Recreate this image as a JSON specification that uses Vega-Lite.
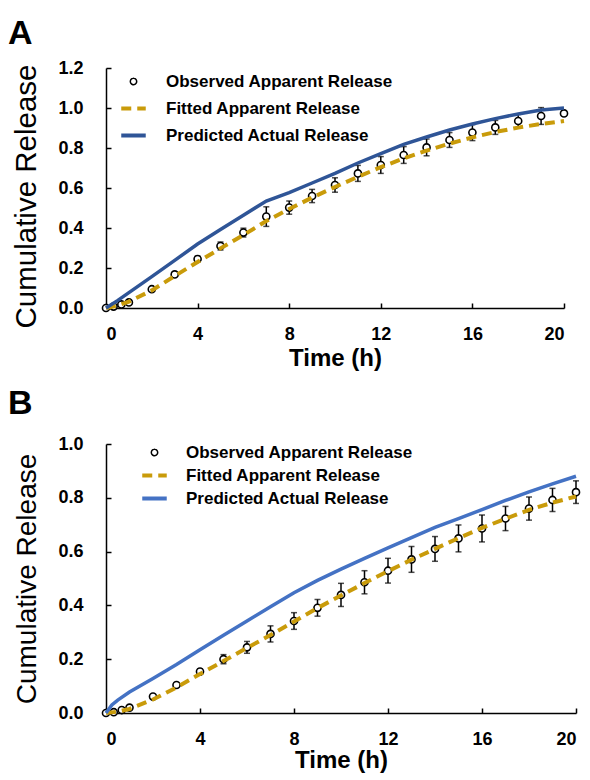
{
  "$schema": "https://vega.github.io/schema/vega-lite/v6.json",
  "padding": {"left": 8, "top": 17, "right": 5, "bottom": 5},
  "spacing": 17,
  "background": "white",
  "config": {
    "view": {"stroke": null},
    "font": "Liberation Sans",
    "axis": {
      "grid": false,
      "domainColor": "black",
      "domainWidth": 1.5,
      "tickColor": "black",
      "tickWidth": 1.5,
      "tickSize": -5,
      "labelFont": "Liberation Sans",
      "labelFontSize": 18,
      "labelFontWeight": "bold",
      "labelColor": "black",
      "titleFont": "Liberation Sans",
      "titleColor": "black"
    },
    "axisX": {"labelPadding": 22, "titleFontSize": 24, "titleFontWeight": "bold", "titlePadding": 3},
    "axisY": {"labelPadding": 28, "titleFontSize": 28, "titleFontWeight": "normal", "titlePadding": 16},
    "legend": {
      "labelFont": "Liberation Sans",
      "labelFontSize": 17,
      "labelFontWeight": "bold",
      "labelColor": "black",
      "labelLimit": 400,
      "padding": 0,
      "symbolSize": 784,
      "symbolType": "stroke"
    },
    "title": {"font": "Liberation Sans", "fontSize": 34, "fontWeight": "bold", "color": "black", "anchor": "start", "frame": "group"}
  },
  "datasets": {
    "obsA": [
      {"t": 0, "v": 0.000, "lo": 0.000, "hi": 0.003},
      {"t": 0.33, "v": 0.007, "lo": 0.003, "hi": 0.011},
      {"t": 0.67, "v": 0.018, "lo": 0.013, "hi": 0.023},
      {"t": 1, "v": 0.028, "lo": 0.022, "hi": 0.034},
      {"t": 2, "v": 0.094, "lo": 0.086, "hi": 0.102},
      {"t": 3, "v": 0.168, "lo": 0.158, "hi": 0.178},
      {"t": 4, "v": 0.245, "lo": 0.231, "hi": 0.259},
      {"t": 5, "v": 0.310, "lo": 0.290, "hi": 0.330},
      {"t": 6, "v": 0.377, "lo": 0.355, "hi": 0.399},
      {"t": 7, "v": 0.457, "lo": 0.408, "hi": 0.506},
      {"t": 8, "v": 0.502, "lo": 0.469, "hi": 0.535},
      {"t": 9, "v": 0.560, "lo": 0.527, "hi": 0.593},
      {"t": 10, "v": 0.615, "lo": 0.579, "hi": 0.651},
      {"t": 11, "v": 0.673, "lo": 0.633, "hi": 0.713},
      {"t": 12, "v": 0.715, "lo": 0.673, "hi": 0.757},
      {"t": 13, "v": 0.765, "lo": 0.723, "hi": 0.807},
      {"t": 14, "v": 0.803, "lo": 0.761, "hi": 0.845},
      {"t": 15, "v": 0.840, "lo": 0.803, "hi": 0.877},
      {"t": 16, "v": 0.877, "lo": 0.837, "hi": 0.917},
      {"t": 17, "v": 0.903, "lo": 0.868, "hi": 0.938},
      {"t": 18, "v": 0.935, "lo": 0.902, "hi": 0.968},
      {"t": 19, "v": 0.960, "lo": 0.918, "hi": 1.002},
      {"t": 20, "v": 0.973, "lo": 0.961, "hi": 0.985}
    ],
    "linesA": [
      {"t": 0, "v": 0.000, "series": "Fitted Apparent Release"},
      {"t": 0.5, "v": 0.012, "series": "Fitted Apparent Release"},
      {"t": 1, "v": 0.032, "series": "Fitted Apparent Release"},
      {"t": 2, "v": 0.088, "series": "Fitted Apparent Release"},
      {"t": 3, "v": 0.160, "series": "Fitted Apparent Release"},
      {"t": 4, "v": 0.230, "series": "Fitted Apparent Release"},
      {"t": 5, "v": 0.298, "series": "Fitted Apparent Release"},
      {"t": 6, "v": 0.365, "series": "Fitted Apparent Release"},
      {"t": 7, "v": 0.435, "series": "Fitted Apparent Release"},
      {"t": 8, "v": 0.495, "series": "Fitted Apparent Release"},
      {"t": 9, "v": 0.552, "series": "Fitted Apparent Release"},
      {"t": 10, "v": 0.605, "series": "Fitted Apparent Release"},
      {"t": 11, "v": 0.656, "series": "Fitted Apparent Release"},
      {"t": 12, "v": 0.704, "series": "Fitted Apparent Release"},
      {"t": 13, "v": 0.748, "series": "Fitted Apparent Release"},
      {"t": 14, "v": 0.787, "series": "Fitted Apparent Release"},
      {"t": 15, "v": 0.822, "series": "Fitted Apparent Release"},
      {"t": 16, "v": 0.853, "series": "Fitted Apparent Release"},
      {"t": 17, "v": 0.880, "series": "Fitted Apparent Release"},
      {"t": 18, "v": 0.902, "series": "Fitted Apparent Release"},
      {"t": 19, "v": 0.920, "series": "Fitted Apparent Release"},
      {"t": 20, "v": 0.935, "series": "Fitted Apparent Release"},
      {"t": 0, "v": 0.000, "series": "Predicted Actual Release"},
      {"t": 0.5, "v": 0.037, "series": "Predicted Actual Release"},
      {"t": 1, "v": 0.077, "series": "Predicted Actual Release"},
      {"t": 2, "v": 0.157, "series": "Predicted Actual Release"},
      {"t": 3, "v": 0.238, "series": "Predicted Actual Release"},
      {"t": 4, "v": 0.320, "series": "Predicted Actual Release"},
      {"t": 5, "v": 0.392, "series": "Predicted Actual Release"},
      {"t": 6, "v": 0.464, "series": "Predicted Actual Release"},
      {"t": 7, "v": 0.535, "series": "Predicted Actual Release"},
      {"t": 8, "v": 0.577, "series": "Predicted Actual Release"},
      {"t": 9, "v": 0.625, "series": "Predicted Actual Release"},
      {"t": 10, "v": 0.673, "series": "Predicted Actual Release"},
      {"t": 11, "v": 0.725, "series": "Predicted Actual Release"},
      {"t": 12, "v": 0.772, "series": "Predicted Actual Release"},
      {"t": 13, "v": 0.818, "series": "Predicted Actual Release"},
      {"t": 14, "v": 0.855, "series": "Predicted Actual Release"},
      {"t": 15, "v": 0.890, "series": "Predicted Actual Release"},
      {"t": 16, "v": 0.920, "series": "Predicted Actual Release"},
      {"t": 17, "v": 0.947, "series": "Predicted Actual Release"},
      {"t": 18, "v": 0.970, "series": "Predicted Actual Release"},
      {"t": 19, "v": 0.990, "series": "Predicted Actual Release"},
      {"t": 20, "v": 1.000, "series": "Predicted Actual Release"}
    ],
    "obsB": [
      {"t": 0, "v": 0.000, "lo": 0.000, "hi": 0.002},
      {"t": 0.33, "v": 0.003, "lo": 0.001, "hi": 0.005},
      {"t": 0.67, "v": 0.011, "lo": 0.008, "hi": 0.014},
      {"t": 1, "v": 0.020, "lo": 0.016, "hi": 0.024},
      {"t": 2, "v": 0.061, "lo": 0.056, "hi": 0.066},
      {"t": 3, "v": 0.104, "lo": 0.097, "hi": 0.111},
      {"t": 4, "v": 0.154, "lo": 0.144, "hi": 0.164},
      {"t": 5, "v": 0.200, "lo": 0.183, "hi": 0.217},
      {"t": 6, "v": 0.244, "lo": 0.222, "hi": 0.266},
      {"t": 7, "v": 0.294, "lo": 0.264, "hi": 0.324},
      {"t": 8, "v": 0.342, "lo": 0.311, "hi": 0.373},
      {"t": 9, "v": 0.391, "lo": 0.360, "hi": 0.422},
      {"t": 10, "v": 0.439, "lo": 0.396, "hi": 0.482},
      {"t": 11, "v": 0.486, "lo": 0.443, "hi": 0.529},
      {"t": 12, "v": 0.529, "lo": 0.483, "hi": 0.575},
      {"t": 13, "v": 0.571, "lo": 0.523, "hi": 0.619},
      {"t": 14, "v": 0.610, "lo": 0.564, "hi": 0.656},
      {"t": 15, "v": 0.649, "lo": 0.599, "hi": 0.699},
      {"t": 16, "v": 0.686, "lo": 0.636, "hi": 0.736},
      {"t": 17, "v": 0.723, "lo": 0.678, "hi": 0.768},
      {"t": 18, "v": 0.760, "lo": 0.717, "hi": 0.803},
      {"t": 19, "v": 0.792, "lo": 0.749, "hi": 0.835},
      {"t": 20, "v": 0.821, "lo": 0.779, "hi": 0.863}
    ],
    "linesB": [
      {"t": 0, "v": 0.000, "series": "Fitted Apparent Release"},
      {"t": 0.5, "v": 0.005, "series": "Fitted Apparent Release"},
      {"t": 1, "v": 0.015, "series": "Fitted Apparent Release"},
      {"t": 2, "v": 0.050, "series": "Fitted Apparent Release"},
      {"t": 3, "v": 0.095, "series": "Fitted Apparent Release"},
      {"t": 4, "v": 0.145, "series": "Fitted Apparent Release"},
      {"t": 5, "v": 0.193, "series": "Fitted Apparent Release"},
      {"t": 6, "v": 0.242, "series": "Fitted Apparent Release"},
      {"t": 7, "v": 0.290, "series": "Fitted Apparent Release"},
      {"t": 8, "v": 0.340, "series": "Fitted Apparent Release"},
      {"t": 9, "v": 0.390, "series": "Fitted Apparent Release"},
      {"t": 10, "v": 0.437, "series": "Fitted Apparent Release"},
      {"t": 11, "v": 0.483, "series": "Fitted Apparent Release"},
      {"t": 12, "v": 0.527, "series": "Fitted Apparent Release"},
      {"t": 13, "v": 0.570, "series": "Fitted Apparent Release"},
      {"t": 14, "v": 0.610, "series": "Fitted Apparent Release"},
      {"t": 15, "v": 0.650, "series": "Fitted Apparent Release"},
      {"t": 16, "v": 0.688, "series": "Fitted Apparent Release"},
      {"t": 17, "v": 0.722, "series": "Fitted Apparent Release"},
      {"t": 18, "v": 0.755, "series": "Fitted Apparent Release"},
      {"t": 19, "v": 0.782, "series": "Fitted Apparent Release"},
      {"t": 20, "v": 0.805, "series": "Fitted Apparent Release"},
      {"t": 0, "v": 0.000, "series": "Predicted Actual Release"},
      {"t": 0.25, "v": 0.030, "series": "Predicted Actual Release"},
      {"t": 0.5, "v": 0.048, "series": "Predicted Actual Release"},
      {"t": 1, "v": 0.078, "series": "Predicted Actual Release"},
      {"t": 2, "v": 0.128, "series": "Predicted Actual Release"},
      {"t": 3, "v": 0.180, "series": "Predicted Actual Release"},
      {"t": 4, "v": 0.235, "series": "Predicted Actual Release"},
      {"t": 5, "v": 0.289, "series": "Predicted Actual Release"},
      {"t": 6, "v": 0.342, "series": "Predicted Actual Release"},
      {"t": 7, "v": 0.395, "series": "Predicted Actual Release"},
      {"t": 8, "v": 0.447, "series": "Predicted Actual Release"},
      {"t": 9, "v": 0.493, "series": "Predicted Actual Release"},
      {"t": 10, "v": 0.535, "series": "Predicted Actual Release"},
      {"t": 11, "v": 0.575, "series": "Predicted Actual Release"},
      {"t": 12, "v": 0.614, "series": "Predicted Actual Release"},
      {"t": 13, "v": 0.652, "series": "Predicted Actual Release"},
      {"t": 14, "v": 0.690, "series": "Predicted Actual Release"},
      {"t": 15, "v": 0.723, "series": "Predicted Actual Release"},
      {"t": 16, "v": 0.756, "series": "Predicted Actual Release"},
      {"t": 17, "v": 0.790, "series": "Predicted Actual Release"},
      {"t": 18, "v": 0.822, "series": "Predicted Actual Release"},
      {"t": 19, "v": 0.852, "series": "Predicted Actual Release"},
      {"t": 20, "v": 0.880, "series": "Predicted Actual Release"}
    ]
  },
  "resolve": {"scale": {"color": "independent", "x": "independent", "y": "independent"}, "legend": {"color": "independent"}},
  "vconcat": [
    {
      "title": {"text": "A", "dx": -98, "offset": 8},
      "width": 458,
      "height": 240,
      "encoding": {
        "x": {"field": "t", "type": "quantitative", "scale": {"domain": [0, 20], "nice": false}, "axis": {"values": [0, 4, 8, 12, 16, 20], "title": "Time (h)"}},
        "y": {"field": "v", "type": "quantitative", "scale": {"domain": [0, 1.2], "nice": false}, "axis": {"values": [0, 0.2, 0.4, 0.6, 0.8, 1.0, 1.2], "format": ".1f", "title": "Cumulative Release", "titleFontSize": 29.5, "titleY": 128}}
      },
      "layer": [
        {
          "data": {"name": "obsA"},
          "mark": {"type": "rule", "color": "black", "strokeWidth": 1.5},
          "encoding": {"y": {"field": "lo", "type": "quantitative"}, "y2": {"field": "hi"}}
        },
        {
          "data": {"name": "obsA"},
          "mark": {"type": "tick", "orient": "horizontal", "color": "black", "size": 6, "thickness": 1.5},
          "encoding": {"y": {"field": "lo", "type": "quantitative"}}
        },
        {
          "data": {"name": "obsA"},
          "mark": {"type": "tick", "orient": "horizontal", "color": "black", "size": 6, "thickness": 1.5},
          "encoding": {"y": {"field": "hi", "type": "quantitative"}}
        },
        {
          "data": {"name": "obsA"},
          "mark": {"type": "point", "shape": "circle", "filled": false, "fill": "white", "stroke": "black", "strokeWidth": 1.6, "size": 50, "opacity": 1},
          "encoding": {}
        },
        {
          "data": {"name": "linesA"},
          "transform": [{"filter": "datum.series === 'Fitted Apparent Release'"}],
          "mark": {"type": "line", "strokeWidth": 4, "strokeDash": [10, 6]},
          "encoding": {
            "color": {
              "field": "series", "type": "nominal",
              "scale": {"domain": ["Observed Apparent Release", "Fitted Apparent Release", "Predicted Actual Release"], "range": ["black", "#C99B0A", "#2F5597"]},
              "legend": {
                "title": null, "orient": "none", "legendX": 19, "legendY": 5, "labelOffset": 24, "rowPadding": 9,
                "encode": {"symbols": {"update": {
                  "shape": {"signal": "datum.value === 'Observed Apparent Release' ? 'circle' : 'stroke'"},
                  "size": {"signal": "datum.value === 'Observed Apparent Release' ? 40 : 600"},
                  "fill": {"signal": "datum.value === 'Observed Apparent Release' ? 'white' : 'transparent'"},
                  "stroke": {"signal": "datum.value === 'Observed Apparent Release' ? 'black' : (datum.value === 'Fitted Apparent Release' ? '#C99B0A' : '#2F5597')"},
                  "strokeWidth": {"signal": "datum.value === 'Observed Apparent Release' ? 1.5 : 4"},
                  "strokeDash": {"signal": "datum.value === 'Fitted Apparent Release' ? [10, 6] : [1, 0]"},
                  "opacity": {"value": 1}
                }}}
              }
            }
          }
        },
        {
          "data": {"name": "linesA"},
          "transform": [{"filter": "datum.series === 'Predicted Actual Release'"}],
          "mark": {"type": "line", "strokeWidth": 3.5},
          "encoding": {"color": {"field": "series", "type": "nominal"}}
        }
      ]
    },
    {
      "title": {"text": "B", "dx": -98, "offset": 14},
      "width": 470,
      "height": 269,
      "encoding": {
        "x": {"field": "t", "type": "quantitative", "scale": {"domain": [0, 20], "nice": false}, "axis": {"values": [0, 4, 8, 12, 16, 20], "title": "Time (h)", "titlePadding": 0}},
        "y": {"field": "v", "type": "quantitative", "scale": {"domain": [0, 1.0], "nice": false}, "axis": {"values": [0, 0.2, 0.4, 0.6, 0.8, 1.0], "format": ".1f", "title": "Cumulative Release"}}
      },
      "layer": [
        {
          "data": {"name": "obsB"},
          "mark": {"type": "rule", "color": "black", "strokeWidth": 1.5},
          "encoding": {"y": {"field": "lo", "type": "quantitative"}, "y2": {"field": "hi"}}
        },
        {
          "data": {"name": "obsB"},
          "mark": {"type": "tick", "orient": "horizontal", "color": "black", "size": 6, "thickness": 1.5},
          "encoding": {"y": {"field": "lo", "type": "quantitative"}}
        },
        {
          "data": {"name": "obsB"},
          "mark": {"type": "tick", "orient": "horizontal", "color": "black", "size": 6, "thickness": 1.5},
          "encoding": {"y": {"field": "hi", "type": "quantitative"}}
        },
        {
          "data": {"name": "obsB"},
          "mark": {"type": "point", "shape": "circle", "filled": false, "fill": "white", "stroke": "black", "strokeWidth": 1.6, "size": 50, "opacity": 1},
          "encoding": {}
        },
        {
          "data": {"name": "linesB"},
          "transform": [{"filter": "datum.series === 'Fitted Apparent Release'"}],
          "mark": {"type": "line", "strokeWidth": 4, "strokeDash": [10, 6]},
          "encoding": {
            "color": {
              "field": "series", "type": "nominal",
              "scale": {"domain": ["Observed Apparent Release", "Fitted Apparent Release", "Predicted Actual Release"], "range": ["black", "#C99B0A", "#4472C4"]},
              "legend": {
                "title": null, "orient": "none", "legendX": 40, "legendY": 0, "labelOffset": 23, "rowPadding": 5,
                "encode": {"symbols": {"update": {
                  "shape": {"signal": "datum.value === 'Observed Apparent Release' ? 'circle' : 'stroke'"},
                  "size": {"signal": "datum.value === 'Observed Apparent Release' ? 40 : 600"},
                  "fill": {"signal": "datum.value === 'Observed Apparent Release' ? 'white' : 'transparent'"},
                  "stroke": {"signal": "datum.value === 'Observed Apparent Release' ? 'black' : (datum.value === 'Fitted Apparent Release' ? '#C99B0A' : '#4472C4')"},
                  "strokeWidth": {"signal": "datum.value === 'Observed Apparent Release' ? 1.5 : 4"},
                  "strokeDash": {"signal": "datum.value === 'Fitted Apparent Release' ? [10, 6] : [1, 0]"},
                  "opacity": {"value": 1}
                }}}
              }
            }
          }
        },
        {
          "data": {"name": "linesB"},
          "transform": [{"filter": "datum.series === 'Predicted Actual Release'"}],
          "mark": {"type": "line", "strokeWidth": 3.5},
          "encoding": {"color": {"field": "series", "type": "nominal"}}
        }
      ]
    }
  ]
}
